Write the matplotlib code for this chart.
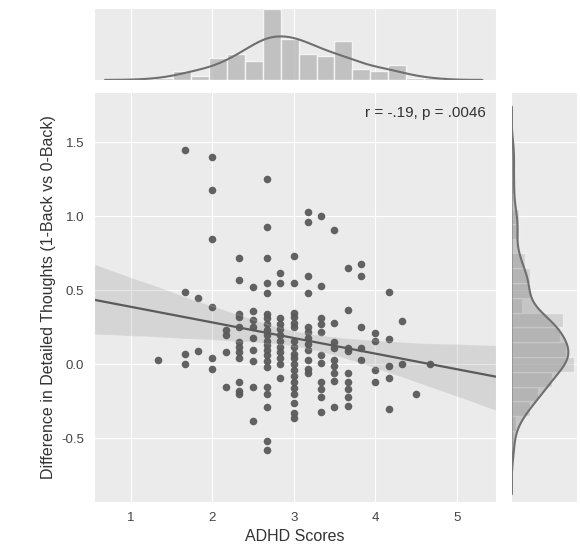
import numpy as np
import matplotlib
matplotlib.use("Agg")
import matplotlib.pyplot as plt
import seaborn as sns

# ADHD score columns (steps of 1/6) and the detailed-thought differences
adhd_levels = [1.33, 1.67, 1.83, 2.0, 2.17, 2.33, 2.5, 2.67, 2.83, 3.0,
               3.17, 3.33, 3.5, 3.67, 3.83, 4.0, 4.17, 4.33, 4.5, 4.67]
diff_by_level = [
    [0.03],
    [1.45, 0.49, 0.07, 0.0],
    [0.45, 0.09],
    [1.40, 1.18, 0.85, 0.39, 0.04, -0.03],
    [0.23, 0.20, 0.08, -0.15],
    [0.72, 0.57, 0.34, 0.32, 0.25, 0.15, 0.12, 0.08, 0.04, -0.12, -0.18, -0.20],
    [0.52, 0.36, 0.30, 0.25, 0.18, 0.10, 0.02, -0.15, -0.38],
    [1.25, 0.93, 0.72, 0.55, 0.48, 0.34, 0.31, 0.27, 0.23, 0.20, 0.16, 0.13,
     0.10, 0.06, 0.02, -0.02, -0.15, -0.20, -0.29, -0.52, -0.58],
    [0.62, 0.55, 0.31, 0.27, 0.24, 0.20, 0.16, 0.12, 0.08, 0.04, 0.0, -0.09],
    [0.73, 0.55, 0.35, 0.32, 0.28, 0.25, 0.16, 0.12, 0.07, 0.04, 0.0, -0.04,
     -0.08, -0.12, -0.16, -0.20, -0.26, -0.33, -0.36],
    [1.03, 0.96, 0.60, 0.48, 0.25, 0.22, 0.18, 0.14, 0.10, 0.03, -0.03, -0.06],
    [1.00, 0.53, 0.31, 0.27, 0.22, 0.06, 0.01, -0.12, -0.17, -0.22, -0.32],
    [0.91, 0.28, 0.15, 0.11, 0.03, -0.01, -0.06, -0.11, -0.29],
    [0.65, 0.37, 0.11, 0.09, -0.06, -0.12, -0.17, -0.22, -0.28],
    [0.68, 0.60, 0.25, 0.11, 0.03],
    [0.21, 0.16, -0.04, -0.12],
    [0.49, 0.17, -0.01, -0.09, -0.30],
    [0.29, 0.0],
    [-0.20],
    [0.0],
]

x_ticks = [1, 2, 3, 4, 5]
y_ticks = [-0.5, 0.0, 0.5, 1.0, 1.5]
stat_text = "r = -.19, p = .0046"

adhd = np.concatenate([[lv] * len(v) for lv, v in zip(adhd_levels, diff_by_level)])
diff = np.concatenate(diff_by_level)

sns.set_style("darkgrid", {"axes.facecolor": "#ebebeb", "grid.color": "white"})
plt.rcParams["font.family"] = ["Liberation Sans", "DejaVu Sans"]

dark = "#5a5a5a"
fig = plt.figure(figsize=(5.8, 5.51), dpi=100)
ax = fig.add_axes([0.162, 0.089, 0.693, 0.744])
ax_top = fig.add_axes([0.162, 0.855, 0.693, 0.131], sharex=ax)
ax_right = fig.add_axes([0.881, 0.089, 0.114, 0.744], sharey=ax)

ax.set_xlim(0.55, 5.48)
ax.set_ylim(-0.93, 1.84)

sns.regplot(x=adhd, y=diff, ax=ax, color=dark, truncate=False, seed=0,
            scatter_kws=dict(s=30, linewidths=0, alpha=0.95),
            line_kws=dict(lw=1.6))
ax.set_xlim(0.55, 5.48)
ax.set_ylim(-0.93, 1.84)
ax.set_xticks(x_ticks)
ax.set_yticks(y_ticks)
ax.set_xticklabels([str(t) for t in x_ticks])
ax.set_yticklabels([f"{t:.1f}" for t in y_ticks])
ax.tick_params(labelsize=9.5, colors="#444444")
ax.set_xlabel("ADHD Scores", fontsize=11.5, color="#333333")
ax.set_ylabel("Difference in Detailed Thoughts (1-Back vs 0-Back)",
              fontsize=11.5, color="#333333")
ax.text(0.975, 0.965, stat_text, transform=ax.transAxes, ha="right", va="top",
        fontsize=11, color="#333333")

# top marginal
bins_x = np.arange(1.30, 4.9, 0.22)
heights, _, _ = ax_top.hist(adhd, bins=bins_x, density=True, color="#b4b4b4",
                            alpha=0.75)
sns.kdeplot(x=adhd, ax=ax_top, color="#6f6f6f", lw=1.5, bw_adjust=0.9)
ax_top.set_ylim(0, heights.max() * 1.02)
ax_top.tick_params(labelbottom=False, labelleft=False)
ax_top.set_ylabel("")
ax_top.set_yticks([])

# right marginal
bins_y = np.arange(-0.65, 1.55, 0.1)
ax_right.hist(diff, bins=bins_y, density=True, orientation="horizontal",
              color="#b4b4b4", alpha=0.45)
sns.kdeplot(y=diff, ax=ax_right, color="#6f6f6f", lw=1.5, fill=True,
            alpha=0.3, bw_adjust=0.75)
ax_right.set_xlim(0, None)
ax_right.tick_params(labelbottom=False, labelleft=False)
ax_right.set_xlabel("")
ax_right.set_xticks([])

fig.savefig("out.png", dpi=100)
